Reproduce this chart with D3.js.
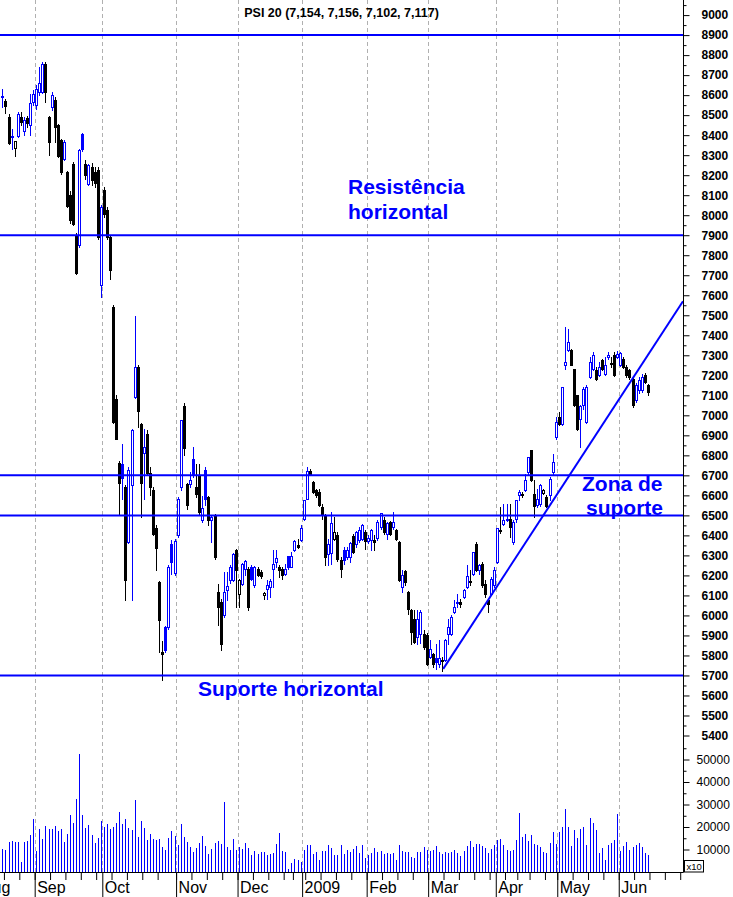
<!DOCTYPE html>
<html><head><meta charset="utf-8">
<script src="https://cdn.jsdelivr.net/npm/d3@7"></script>
<style>html,body{margin:0;padding:0;background:#fff}svg{display:block}</style>
</head><body>
<script>
// ---------------- DATA ----------------
const titleText = "PSI 20 (7,154, 7,156, 7,102, 7,117)";
const firstPrevClose = 8560;
const openP = [8590,8572,8492,8390,8338,8395,8492,8422,8488,8450,8567,8553,8617,8617,8758,8492,8542,8575,8450,8375,
8283,8217,8100,8258,7900,7850,8405,8258,8158,8240,8215,8225,7650,8125,8025,7892,7542,7083,6760,6758,
6642,6367,6650,7092,7242,6955,6812,6905,6712,6628,6438,6165,5815,5942,5942,6358,6212,6400,6642,7045,
6655,6658,6780,6642,6695,6475,6725,6592,6475,6500,6117,6067,6000,6125,6175,6178,6325,6108,6158,6230,
6233,6242,6150,6233,6217,6100,6133,6142,6233,6267,6242,6230,6208,6295,6242,6325,6350,6378,6480,6583,
6722,6667,6625,6617,6542,6500,6308,6312,6383,6400,6275,6328,6292,6292,6395,6355,6375,6383,6417,6372,
6375,6378,6388,6442,6475,6408,6467,6442,6428,6367,6140,6222,6117,6025,5983,5892,5908,5908,5900,5792,
5805,5785,5758,5778,5775,5905,5908,6017,6060,6067,6092,6142,6170,6208,6358,6225,6258,6155,6075,6108,
6150,6267,6425,6458,6475,6483,6367,6483,6600,6608,6625,6717,6825,6605,6550,6555,6613,6592,6600,6717,
6892,6992,6958,7250,7325,7328,7233,7100,6983,7050,6967,7192,7233,7225,7200,7275,7208,7292,7255,7300,
7292,7250,7283,7242,7225,7183,7075,7125,7125,7200,7154];
const highP = [8633,8583,8508,8433,8370,8517,8517,8492,8495,8608,8628,8650,8742,8767,8767,8495,8617,8592,8458,8383,
8375,8220,8120,8265,7910,8330,8410,8275,8255,8260,8240,8240,8050,8140,8040,7900,7550,7100,6770,6858,
6650,6740,6930,7495,7250,6960,6930,6925,6740,6640,6450,6170,5870,5945,6250,6375,6380,6590,6978,7060,
6660,6717,6842,6758,6758,6596,6742,6595,6495,6505,6158,6080,6217,6217,6250,6310,6330,6180,6260,6275,
6240,6250,6245,6240,6225,6117,6175,6183,6325,6325,6250,6240,6258,6298,6317,6378,6383,6450,6578,6742,
6733,6670,6630,6633,6558,6505,6383,6517,6492,6417,6292,6342,6340,6367,6408,6420,6440,6455,6425,6400,
6433,6400,6475,6512,6492,6467,6470,6517,6430,6370,6225,6225,6120,6030,6025,6025,6025,5925,5910,5878,
5810,5858,5878,5792,5883,5983,6000,6075,6108,6083,6133,6250,6225,6317,6367,6258,6267,6175,6083,6192,
6242,6438,6542,6558,6558,6558,6475,6575,6625,6617,6708,6792,6828,6675,6633,6655,6633,6600,6692,6808,
6992,7017,7142,7442,7433,7333,7233,7100,7050,7142,7150,7292,7317,7242,7267,7283,7292,7317,7292,7317,
7320,7317,7292,7250,7230,7190,7160,7190,7208,7210,7156];
const lowP = [8542,8512,8358,8333,8295,8390,8450,8400,8442,8400,8550,8533,8600,8610,8567,8300,8525,8367,8292,8208,
8275,8042,7960,7950,7705,7840,8320,8180,8150,8150,8140,7880,7592,7990,7880,7683,6960,6880,6508,6583,
6075,6360,6075,7085,6942,6492,6580,6700,6600,6400,6225,5817,5675,5815,5930,6208,6200,6390,6625,6800,
6530,6640,6692,6592,6500,6467,6550,6450,6367,6280,5950,5825,5990,6075,6160,6170,6042,6042,6150,6200,
6028,6175,6140,6195,6185,6083,6083,6092,6142,6242,6192,6180,6200,6233,6240,6322,6335,6372,6475,6580,
6700,6610,6590,6545,6483,6250,6250,6258,6375,6270,6192,6258,6280,6267,6310,6342,6365,6375,6333,6360,
6325,6325,6375,6430,6408,6383,6400,6430,6375,6170,6117,6150,6008,5858,5860,5858,5860,5833,5750,5785,
5742,5733,5742,5722,5770,5858,5900,6010,6042,6042,6085,6135,6150,6200,6220,6208,6140,6092,6017,6100,
6140,6260,6410,6450,6470,6392,6358,6467,6575,6590,6620,6700,6670,6492,6540,6545,6605,6540,6575,6700,
6880,6950,6950,7233,7320,7250,7045,6925,6842,7033,6960,7185,7225,7175,7195,7225,7200,7283,7242,7195,
7285,7245,7235,7190,7180,7040,7065,7110,7115,7160,7102];
const closeP = [8598,8545,8360,8395,8370,8508,8467,8478,8462,8562,8608,8633,8663,8758,8617,8367,8600,8442,8295,8217,
8367,8045,7975,7958,7712,8325,8330,8200,8250,8175,8160,7892,8042,8008,7892,7725,6967,6883,6660,6688,
6175,6725,6928,7242,7022,6662,6842,6712,6640,6408,6338,5975,5805,5825,6242,6267,6372,6583,6975,6838,
6553,6675,6700,6608,6517,6538,6583,6475,6492,6292,6042,5858,6117,6145,6242,6308,6225,6175,6258,6270,
6040,6183,6242,6200,6195,6110,6150,6172,6255,6287,6225,6200,6230,6242,6295,6372,6342,6438,6575,6722,
6708,6617,6600,6550,6500,6292,6358,6462,6417,6283,6233,6275,6328,6362,6317,6417,6425,6450,6372,6388,
6428,6367,6467,6510,6417,6462,6408,6467,6383,6178,6200,6167,6033,5917,5867,5983,6017,5842,5758,5833,
5758,5767,5787,5772,5875,5942,5992,6042,6067,6058,6128,6195,6167,6317,6225,6250,6150,6108,6058,6183,
6225,6438,6420,6475,6483,6442,6467,6575,6617,6600,6675,6792,6675,6545,6583,6650,6625,6545,6683,6767,
6967,6958,7142,7267,7367,7253,7050,6933,7045,7133,7140,7267,7300,7183,7242,7233,7250,7300,7262,7200,
7308,7312,7242,7200,7192,7050,7150,7175,7192,7167,7117];
const volume = [10200,9800,13300,13800,13300,13300,4400,13300,13800,16400,23600,9300,19100,14700,20400,19100,19100,20400,18200,19100,
13300,16900,25300,21800,32400,52400,25300,19600,20900,16400,12900,15100,22700,20000,21300,19100,20000,21800,26700,21300,
23600,19600,18700,32000,15600,22700,19600,14200,16900,14700,14200,14700,11100,9800,15100,18200,16000,12000,21300,15600,
13300,11100,8900,10700,12900,16000,11600,8000,10200,12900,13800,12400,31100,11100,9800,14700,9800,11100,10200,12900,
10700,7600,9300,8000,8900,8900,7600,8000,8400,12400,17300,9300,8900,1300,4000,5800,5300,4400,9800,12000,
12000,8000,8900,5300,9300,9300,12000,10700,7600,7600,12000,8000,9800,8900,10200,11600,8400,12000,6200,7600,
8400,10700,8900,9300,8000,8400,8000,8400,5300,12000,9300,8900,8900,6700,6200,8900,8900,11100,9800,9300,
9800,11600,8900,8000,8900,8400,8900,9800,8400,7100,9300,11600,13800,11100,12400,12400,11600,10700,8400,10200,
12000,14200,14700,12000,9800,9300,9800,14200,26200,15600,16900,13800,16400,12400,12000,11100,8900,8400,12900,17800,
12400,17800,20000,28000,20000,11600,18700,15100,19100,20000,12000,24000,22000,18700,8400,10700,5300,12000,12900,14200,
25800,9300,11600,13300,9800,11100,12000,12900,11100,8400,7600];

const monthLabels = ["Aug","Sep","Oct","Nov","Dec","2009","Feb","Mar","Apr","May","Jun"];
const monthStart  = [-7, 11, 33, 57, 77, 98, 119, 139, 161, 181, 201];
const weekStart = [1,6,11,16,21,26,31,36,41,46,51,57,62,67,72,77,82,87,92,95,99,104,109,114,119,124,129,134,
  139,144,149,154,159,164,168,172,177,181,186,191,196,201,206,211,216,221];
const priceTicks = d3.range(5400, 9001, 100);
const priceMinor = d3.range(5450, 9051, 100);
const volumeTicks = [10000, 20000, 30000, 40000, 50000];
const volumeMinor = [5000, 15000, 25000, 35000, 45000, 55000];
const levels = [8900, 7900, 6700, 6500, 5700];
const trendIdx = [143.4, 221.4];
const trendVal = [5733, 7570];

// ---------------- CHART ----------------
const W = 733, H = 897, AX = 683.5, BASE = 872;
const BLUE = "#0000ff";
const svg = d3.select("body").append("svg")
  .attr("width", W).attr("height", H)
  .style("font-family", "'Liberation Sans', Arial, Helvetica, sans-serif");

const x = d3.scaleLinear().domain([0, 210]).range([2.4, 2.4 + 3.074 * 210]);
const y = d3.scaleLinear().domain([5400, 9000]).range([735.5, 15.1]);
const yv = d3.scaleLinear().domain([0, 50000]).range([BASE, 759.5]);

const bars = d3.range(closeP.length).map(i => ({
  i, o: openP[i], h: highP[i], l: lowP[i], c: closeP[i],
  pc: i ? closeP[i - 1] : firstPrevClose, v: volume[i]
}));
const px = d => Math.round(x(d.i));
const col = d => d.c >= d.pc ? BLUE : "#000";

// gridlines
svg.append("g").selectAll("line").data(monthStart.slice(1)).join("line")
  .attr("x1", d => Math.round(x(d - 0.5)) + 0.5).attr("x2", d => Math.round(x(d - 0.5)) + 0.5)
  .attr("y1", 0).attr("y2", BASE)
  .attr("stroke", "#b0b0b0").attr("stroke-width", 1).attr("stroke-dasharray", "4,3");

// volume bars
svg.append("g").selectAll("line").data(bars).join("line")
  .attr("x1", d => px(d) + 0.5).attr("x2", d => px(d) + 0.5)
  .attr("y1", yv(0)).attr("y2", d => Math.round(yv(d.v)))
  .attr("stroke", BLUE).attr("stroke-width", 1);

// candles
const cg = svg.append("g").attr("shape-rendering", "crispEdges");
cg.selectAll("line").data(bars).join("line")
  .attr("x1", d => px(d) + 0.5).attr("x2", d => px(d) + 0.5)
  .attr("y1", d => Math.round(y(d.h))).attr("y2", d => Math.round(y(d.l)) + 1)
  .attr("stroke", col).attr("stroke-width", 1);
cg.selectAll("rect").data(bars).join("rect")
  .each(function (d) {
    const top = Math.round(y(Math.max(d.o, d.c)));
    const bot = Math.round(y(Math.min(d.o, d.c)));
    const s = d3.select(this);
    if (d.c >= d.o) { // hollow
      s.attr("x", px(d) - 0.5).attr("width", 2)
        .attr("y", top + 0.5).attr("height", Math.max(0, bot - top))
        .attr("fill", "#fff").attr("stroke", col(d)).attr("stroke-width", 1);
    } else {
      s.attr("x", px(d) - 1).attr("width", 3)
        .attr("y", top).attr("height", Math.max(1, bot - top + 1))
        .attr("fill", col(d));
    }
  });

// level lines
svg.append("g").selectAll("line").data(levels).join("line")
  .attr("x1", 0).attr("x2", AX)
  .attr("y1", d => y(d)).attr("y2", d => y(d))
  .attr("stroke", BLUE).attr("stroke-width", 2);

// trendline
svg.append("line")
  .attr("x1", x(trendIdx[0])).attr("y1", y(trendVal[0]))
  .attr("x2", x(trendIdx[1])).attr("y2", y(trendVal[1]))
  .attr("stroke", BLUE).attr("stroke-width", 2);

// right axis line
svg.append("line").attr("x1", AX).attr("x2", AX).attr("y1", 0).attr("y2", BASE + 0.5)
  .attr("stroke", "#000").attr("stroke-width", 1);

// price axis
const gy = svg.append("g").attr("transform", `translate(${AX},0)`)
  .call(d3.axisRight(y).tickValues(priceTicks).tickSize(6).tickPadding(12).tickFormat(d3.format("d")));
gy.select(".domain").remove();
gy.selectAll("text").attr("font-weight", "bold").attr("font-size", 12).attr("fill", "#000")
  .style("font-family", "'Liberation Sans', Arial, sans-serif");
const gym = svg.append("g").attr("transform", `translate(${AX},0)`)
  .call(d3.axisRight(y).tickValues(priceMinor).tickSize(3).tickFormat(""));
gym.select(".domain").remove();

// volume axis
const gvv = svg.append("g").attr("transform", `translate(${AX},0)`)
  .call(d3.axisRight(yv).tickValues(volumeTicks).tickSize(6).tickPadding(7).tickFormat(d3.format("d")));
gvv.select(".domain").remove();
gvv.selectAll("text").attr("font-size", 12).attr("fill", "#000")
  .style("font-family", "'Liberation Sans', Arial, sans-serif");
const gvm = svg.append("g").attr("transform", `translate(${AX},0)`)
  .call(d3.axisRight(yv).tickValues(volumeMinor).tickSize(3).tickFormat(""));
gvm.select(".domain").remove();

// x10 box
svg.append("rect").attr("x", AX + 1).attr("y", 860.5).attr("width", 19).attr("height", 11.5)
  .attr("fill", "#fff").attr("stroke", "#000").attr("stroke-width", 1);
svg.append("text").attr("x", AX + 3).attr("y", 870).attr("font-size", 9.5).text("x10");

// bottom axis
svg.append("line").attr("x1", 0).attr("x2", AX).attr("y1", BASE + 0.5).attr("y2", BASE + 0.5)
  .attr("stroke", "#000").attr("stroke-width", 1);
const gxw = svg.append("g").attr("transform", `translate(0,${BASE})`)
  .call(d3.axisBottom(x).tickValues(weekStart.map(d => d - 0.5)).tickSize(8).tickFormat(""));
gxw.select(".domain").remove();
const gxm = svg.append("g").attr("transform", `translate(0,${BASE})`)
  .call(d3.axisBottom(x).tickValues(monthStart.map(d => d - 0.5)).tickSize(26)
    .tickFormat((d, k) => monthLabels[k]));
gxm.select(".domain").remove();
gxm.selectAll("text").attr("text-anchor", "start").attr("x", 2).attr("y", 21).attr("dy", 0)
  .attr("font-size", 16).attr("fill", "#000")
  .style("font-family", "'Liberation Sans', Arial, sans-serif");

// title
svg.append("text").attr("x", 341.5).attr("y", 17).attr("text-anchor", "middle")
  .attr("font-size", 12.5).attr("font-weight", "bold").text(titleText);

// annotations
const ann = svg.append("g").attr("fill", BLUE).attr("font-weight", "bold").attr("font-size", 21);
ann.append("text").attr("x", 348).attr("y", 194).text("Resistência");
ann.append("text").attr("x", 348).attr("y", 219).text("horizontal");
ann.append("text").attr("x", 582).attr("y", 491).text("Zona de");
ann.append("text").attr("x", 586).attr("y", 515).text("suporte");
ann.append("text").attr("x", 198).attr("y", 696).text("Suporte horizontal");
</script>
</body></html>
